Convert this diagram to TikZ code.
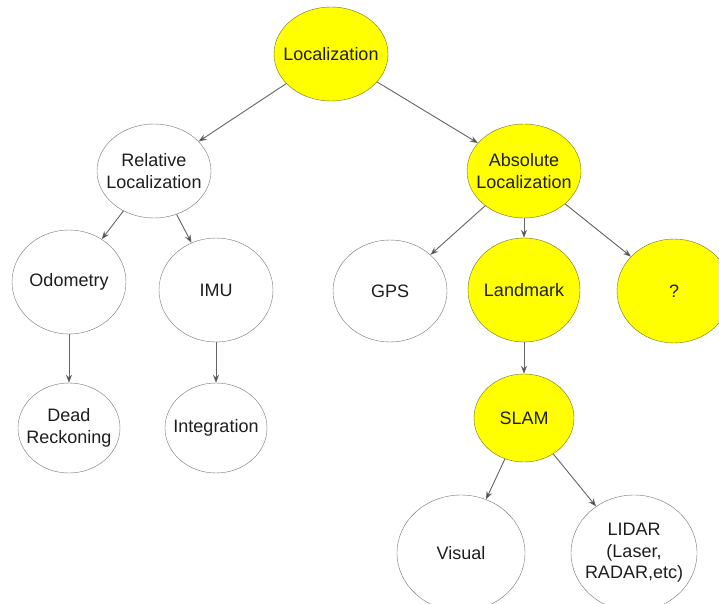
\documentclass[tikz,border=0pt]{standalone}
\usepackage{fontspec}
\setmainfont{Liberation Sans}
\usepackage{tikz}
\usetikzlibrary{shapes.geometric}
\usetikzlibrary{arrows.meta}
\usepackage{xcolor}
\definecolor{ColFill}{RGB}{255,255,0}
\definecolor{ColRim}{RGB}{112,112,40}
\definecolor{ColLine}{RGB}{100,100,100}
\definecolor{ColText}{RGB}{30,30,30}
\tikzstyle{NodeLoc}=[ellipse,draw=ColLine!90,fill=white,inner sep=-22pt,align=center,
text=ColText,font=\fontsize{18}{21.6}\selectfont]
\tikzstyle{NodeKey}=[NodeLoc,draw=ColRim,fill=ColFill]
\tikzstyle{EdgeLoc}=[ColLine,line width=0.9pt,-{Stealth[length=8pt,width=6pt,fill=ColText]}]

\begin{document}
\begin{tikzpicture}[x=1pt,y=-1pt]
        \useasboundingbox(0,0)rectangle(719,604);
        \node[NodeKey,minimum width=114,minimum height=94](loc)at(331,54){Localization};
        \node[NodeLoc,minimum width=114,minimum height=94](rel)at(154,171){Relative\\Localization};
        \node[NodeKey,minimum width=114,minimum height=94](abs)at(524,171){Absolute\\Localization};
        \node[NodeLoc,minimum width=114,minimum height=104](odo)at(69,282){Odometry};
        \node[NodeLoc,minimum width=114,minimum height=104](imu)at(216,290){IMU};
        \node[NodeLoc,minimum width=114,minimum height=102](gps)at(390,291){GPS};
        \node[NodeKey,minimum width=112,minimum height=104](lmk)at(524,290){Landmark};
        \node[NodeKey,minimum width=114,minimum height=104](unk)at(674,291){?};
        \node[NodeLoc,minimum width=102,minimum height=90](dead)at(69,428){Dead\\Reckoning};
        \node[NodeLoc,minimum width=102,minimum height=90](intg)at(216,428){Integration};
        \node[NodeKey,minimum width=100,minimum height=88](slam)at(524,418){SLAM};
        \node[NodeLoc,minimum width=128,minimum height=116](vis)at(461,553){Visual};
        \node[NodeLoc,minimum width=126,minimum height=116](lidar)at(634,553){LIDAR\\(Laser,\\RADAR,etc)};
        \draw[EdgeLoc](loc)--(rel);
        \draw[EdgeLoc](loc)--(abs);
        \draw[EdgeLoc](rel)--(odo);
        \draw[EdgeLoc](rel)--(imu);
        \draw[EdgeLoc](odo)--(dead);
        \draw[EdgeLoc](imu)--(intg);
        \draw[EdgeLoc](abs)--(gps);
        \draw[EdgeLoc](abs)--(lmk);
        \draw[EdgeLoc](abs)--(unk);
        \draw[EdgeLoc](lmk)--(slam);
        \draw[EdgeLoc](slam)--(vis);
        \draw[EdgeLoc](slam)--(lidar);
    \end{tikzpicture}
\end{document}
